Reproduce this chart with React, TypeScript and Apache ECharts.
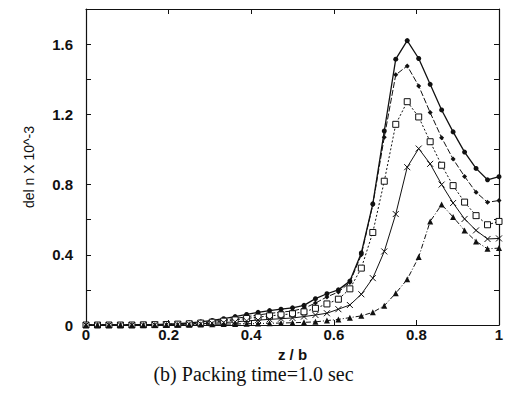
import React, { useEffect, useRef } from "react";
import * as echarts from "echarts";

const zb: number[] = Array.from({ length: 37 }, (_, k) => k / 36);

const seriesCircle: number[] = [0, 0, 0, 0, 0, 0.002, 0.003, 0.005, 0.008, 0.012, 0.018, 0.026, 0.036, 0.048, 0.06, 0.072, 0.082, 0.09, 0.098, 0.112, 0.15, 0.178, 0.2, 0.25, 0.41, 0.69, 1.105, 1.514, 1.62, 1.518, 1.371, 1.225, 1.1, 0.985, 0.892, 0.827, 0.845];
const seriesPlus: number[] = [0, 0, 0, 0, 0, 0.001, 0.002, 0.004, 0.006, 0.009, 0.014, 0.02, 0.028, 0.037, 0.047, 0.057, 0.066, 0.073, 0.08, 0.095, 0.125, 0.16, 0.188, 0.242, 0.4, 0.685, 1.07, 1.425, 1.476, 1.362, 1.21, 1.067, 0.945, 0.846, 0.756, 0.699, 0.709];
const seriesSquare: number[] = [0, 0, 0, 0, 0, 0.001, 0.002, 0.003, 0.005, 0.007, 0.011, 0.016, 0.022, 0.029, 0.037, 0.045, 0.052, 0.058, 0.064, 0.075, 0.095, 0.12, 0.147, 0.206, 0.324, 0.527, 0.819, 1.143, 1.272, 1.185, 1.044, 0.91, 0.794, 0.7, 0.623, 0.571, 0.59];
const seriesCross: number[] = [0, 0, 0, 0, 0, 0, 0.001, 0.002, 0.003, 0.005, 0.007, 0.01, 0.014, 0.018, 0.023, 0.028, 0.032, 0.036, 0.04, 0.048, 0.057, 0.067, 0.09, 0.114, 0.175, 0.267, 0.419, 0.632, 0.899, 1.005, 0.918, 0.8, 0.695, 0.604, 0.539, 0.49, 0.493];
const seriesTriangle: number[] = [0, 0, 0, 0, 0, 0, 0, 0.001, 0.001, 0.002, 0.003, 0.004, 0.005, 0.006, 0.007, 0.008, 0.01, 0.011, 0.013, 0.015, 0.018, 0.025, 0.032, 0.042, 0.052, 0.072, 0.11, 0.181, 0.26, 0.387, 0.59, 0.686, 0.615, 0.539, 0.476, 0.434, 0.438];

const xTicks: number[] = [0, 0.2, 0.4, 0.6, 0.8, 1];
const yLabelled: number[] = [0, 0.4, 0.8, 1.2, 1.6];

const yName = "del n X 10^-3";
const xName = "z / b";
const caption = "(b) Packing time=1.0 sec";

const pair = (vals: number[]) => zb.map((x, i) => [x, vals[i]]);

export default function App() {
  const ref = useRef<HTMLDivElement>(null);
  useEffect(() => {
    if (!ref.current) return;
    const chart = echarts.init(ref.current, null, { renderer: "svg" });
    const font = "Liberation Sans, Arial, sans-serif";
    const black = "#111";
    const axisCommon = {
      min: 0,
      axisLine: { show: true, onZero: false, lineStyle: { color: black, width: 1.2 } },
      axisTick: { show: true, inside: true, length: 5, lineStyle: { color: black } },
      splitLine: { show: false },
    };
    const base = {
      type: "line",
      showSymbol: true,
      symbolSize: 5,
      silent: true,
    };
    chart.setOption({
      animation: false,
      backgroundColor: "#fff",
      grid: { left: 86, right: 8, top: 9, bottom: 74, containLabel: false },
      xAxis: [
        {
          ...axisCommon,
          type: "value",
          max: 1,
          interval: 0.2,
          position: "bottom",
          name: xName,
          nameLocation: "middle",
          nameGap: 14,
          nameTextStyle: { color: black, fontSize: 15, fontWeight: "bold", fontFamily: font },
          axisLabel: {
            color: black,
            fontSize: 15,
            fontWeight: "bold",
            fontFamily: font,
            margin: 2,
            formatter: (v: number) => {
              const t = xTicks.find((a) => Math.abs(a - v) < 1e-6);
              return t === undefined ? "" : String(t);
            },
          },
        },
        {
          ...axisCommon,
          type: "value",
          max: 1,
          interval: 0.2,
          position: "top",
          axisLabel: { show: false },
        },
      ],
      yAxis: [
        {
          ...axisCommon,
          type: "value",
          max: 1.8,
          interval: 0.2,
          position: "left",
          name: yName,
          nameLocation: "middle",
          nameGap: 50,
          nameRotate: 90,
          nameTextStyle: { color: black, fontSize: 14, fontFamily: font },
          axisLabel: {
            color: black,
            fontSize: 15,
            fontWeight: "bold",
            fontFamily: font,
            margin: 13,
            formatter: (v: number) => {
              const t = yLabelled.find((a) => Math.abs(a - v) < 1e-6);
              return t === undefined ? "" : String(t);
            },
          },
        },
        {
          ...axisCommon,
          type: "value",
          max: 1.8,
          interval: 0.2,
          position: "right",
          axisLabel: { show: false },
        },
      ],
      graphic: [
        {
          type: "text",
          left: "center",
          top: 364,
          style: {
            text: caption,
            fill: "#111",
            font: "20px 'Liberation Serif', 'DejaVu Serif', serif",
          },
        },
      ],
      series: [
        {
          ...base,
          name: "circle",
          data: pair(seriesCircle),
          symbol: "circle",
          symbolSize: 5,
          lineStyle: { color: black, width: 1.3, type: "solid" },
          itemStyle: { color: black },
        },
        {
          ...base,
          name: "plus",
          data: pair(seriesPlus),
          symbol: "diamond",
          symbolSize: 5,
          lineStyle: { color: black, width: 1, type: [6, 2] },
          itemStyle: { color: black },
        },
        {
          ...base,
          name: "square",
          data: pair(seriesSquare),
          symbol: "rect",
          symbolSize: 6,
          lineStyle: { color: black, width: 1, type: [2, 2] },
          itemStyle: { color: "#fff", borderColor: black, borderWidth: 1 },
        },
        {
          ...base,
          name: "cross",
          data: pair(seriesCross),
          symbol: "path://M0,0L10,10M10,0L0,10",
          symbolSize: 6,
          lineStyle: { color: black, width: 1, type: "solid" },
          itemStyle: { color: "none", borderColor: black, borderWidth: 1 },
        },
        {
          ...base,
          name: "triangle",
          data: pair(seriesTriangle),
          symbol: "triangle",
          symbolSize: 6,
          lineStyle: { color: black, width: 1, type: [5, 2, 1, 2] },
          itemStyle: { color: black },
        },
      ],
    });
    return () => chart.dispose();
  }, []);
  return <div ref={ref} style={{ width: 507, height: 399, position: "absolute", left: 0, top: 0 }} />;
}
